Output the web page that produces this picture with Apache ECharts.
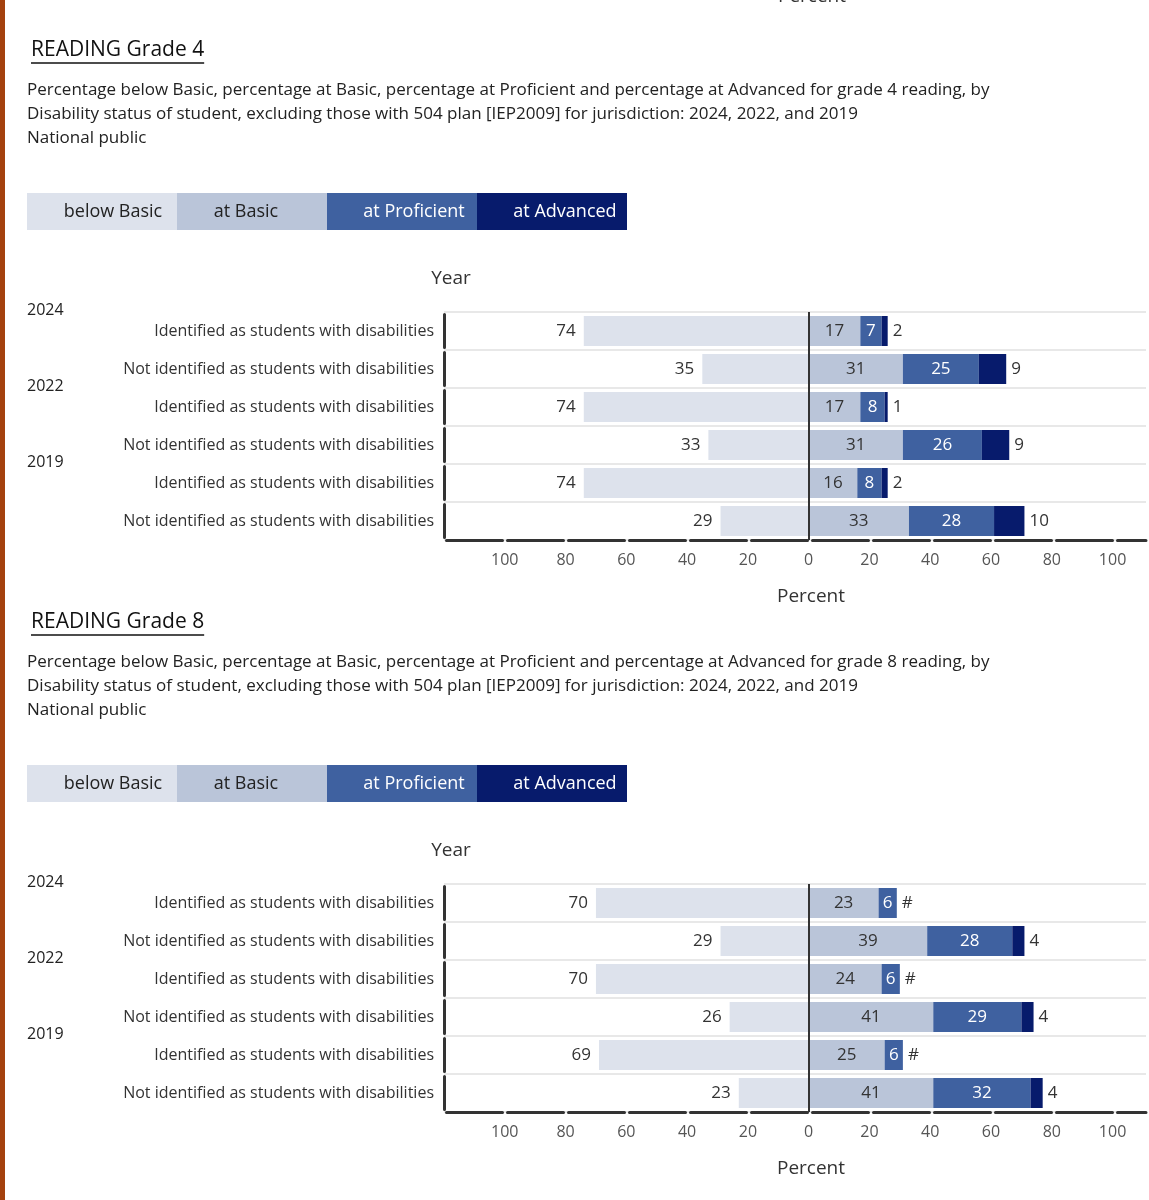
<!DOCTYPE html>
<html>
<head>
<meta charset="utf-8">
<script src="https://cdn.jsdelivr.net/npm/echarts@6/dist/echarts.min.js"></script>
<style>
html,body{margin:0;padding:0;background:#fff;}
#chart{width:1149px;height:1200px;}
</style>
</head>
<body>
<div id="chart"></div>
<script>
// ---- data ----
var categories = [
  'Identified as students with disabilities',
  'Not identified as students with disabilities',
  'Identified as students with disabilities',
  'Not identified as students with disabilities',
  'Identified as students with disabilities',
  'Not identified as students with disabilities'
];
var years = ['2024', '2022', '2019'];
var levels = ['below Basic', 'at Basic', 'at Proficient', 'at Advanced'];
var xMin = -120, xMax = 111, xInterval = 20;

var g4BelowBasic = [74, 35, 74, 33, 74, 29];
var g4Basic      = [17, 31, 17, 31, 16, 33];
var g4Proficient = [7, 25, 8, 26, 8, 28];
var g4Advanced   = [2, 9, 1, 9, 2, 10];

var g8BelowBasic = [70, 29, 70, 26, 69, 23];
var g8Basic      = [23, 39, 24, 41, 25, 41];
var g8Proficient = [6, 28, 6, 29, 6, 32];
var g8Advanced   = [0, 4, 0, 4, 0, 4];   // 0 shown as "#" (rounds to zero)

var panels = [
  { title: 'READING Grade 4', grade: 4, below: g4BelowBasic, basic: g4Basic, prof: g4Proficient, adv: g4Advanced },
  { title: 'READING Grade 8', grade: 8, below: g8BelowBasic, basic: g8Basic, prof: g8Proficient, adv: g8Advanced }
];

// ---- style ----
var COLORS = ['#dde2ec', '#bac5d9', '#3f61a0', '#071b6c'];
var LEGEND_TEXT = ['#222', '#222', '#fff', '#fff'];
var LEGEND_CX = [113, 246, 414, 565];
var FONT = '"Open Sans", "Noto Sans", sans-serif';
var PANEL_OFFSET = 572;
var PX_PER_UNIT = 3.05;
var GRID_LEFT = 444, GRID_TOP = 312, GRID_H = 228;
var GRID_W = (xMax - xMin) * PX_PER_UNIT;
var ROW_H = GRID_H / categories.length;
var ZERO_X = GRID_LEFT + (0 - xMin) * PX_PER_UNIT;

function measure(txt, size) {
  var c = document.createElement('canvas').getContext('2d');
  c.font = size + 'px ' + FONT;
  return c.measureText(txt).width;
}

var chart = echarts.init(document.getElementById('chart'), null, { renderer: 'canvas' });

var grids = [], xAxes = [], yAxes = [], series = [], graphics = [];

graphics.push({ type: 'rect', shape: { x: 0, y: 0, width: 5, height: 1200 }, style: { fill: '#a4410e' } });
graphics.push({ type: 'text', x: ZERO_X + 2, y: -3, style: { text: 'Percent', font: '19px ' + FONT, fill: '#333', textAlign: 'center', textVerticalAlign: 'middle' } });

var period = xInterval * PX_PER_UNIT;

panels.forEach(function (p, i) {
  var off = i * PANEL_OFFSET;
  var top = GRID_TOP + off;
  grids.push({ left: GRID_LEFT, top: top, width: GRID_W, height: GRID_H, containLabel: false });

  xAxes.push({
    type: 'value', gridIndex: i, min: xMin, max: xMax, interval: xInterval,
    axisLine: { show: true, onZero: false, lineStyle: { color: '#333', width: 3, type: [period - 5, 5], dashOffset: period - 2.5 } },
    axisTick: { show: false },
    splitLine: { show: false },
    axisLabel: {
      color: '#555', fontSize: 16, fontFamily: FONT, margin: 12,
      formatter: function (v) { return Math.abs(v) > 100 ? '' : String(Math.abs(v)); }
    }
  });

  yAxes.push({
    type: 'category', gridIndex: i, inverse: true, data: categories,
    axisLine: { show: true, onZero: false, lineStyle: { color: '#333', width: 3, type: [ROW_H - 5, 5], dashOffset: ROW_H - 2.5 } },
    axisTick: { show: false },
    splitLine: { show: true, lineStyle: { color: '#e8e8e8', width: 2 } },
    axisLabel: { color: '#333', fontSize: 16, fontFamily: FONT, margin: 10 }
  });

  var stack = 'g' + p.grade;
  var labelBase = { fontSize: 17, fontFamily: FONT };
  series.push({
    name: levels[0], type: 'bar', xAxisIndex: i, yAxisIndex: i, stack: stack, barWidth: 30,
    data: p.below.map(function (v) { return -v; }),
    itemStyle: { color: COLORS[0] },
    label: Object.assign({ show: true, position: 'left', distance: 8, color: '#333', formatter: function (d) { return Math.abs(d.value); } }, labelBase),
    markLine: {
      silent: true, symbol: 'none', label: { show: false },
      lineStyle: { color: '#333', width: 2, type: 'solid' },
      data: [{ xAxis: 0 }], animation: false
    },
    animation: false
  });
  series.push({
    name: levels[1], type: 'bar', xAxisIndex: i, yAxisIndex: i, stack: stack, barWidth: 30,
    data: p.basic, itemStyle: { color: COLORS[1] },
    label: Object.assign({ show: true, position: 'inside', color: '#333' }, labelBase),
    animation: false
  });
  series.push({
    name: levels[2], type: 'bar', xAxisIndex: i, yAxisIndex: i, stack: stack, barWidth: 30,
    data: p.prof, itemStyle: { color: COLORS[2] },
    label: Object.assign({ show: true, position: 'inside', color: '#fff' }, labelBase),
    animation: false
  });
  series.push({
    name: levels[3], type: 'bar', xAxisIndex: i, yAxisIndex: i, stack: stack, barWidth: 30,
    data: p.adv, itemStyle: { color: COLORS[3] },
    label: Object.assign({ show: true, position: 'right', distance: 5, color: '#333', formatter: function (d) { return d.value === 0 ? '#' : d.value; } }, labelBase),
    animation: false
  });

  // title + underline
  var tw = measure(p.title, 21);
  graphics.push({ type: 'text', x: 31, y: 50 + off, style: { text: p.title, font: '21px ' + FONT, fill: '#111', textVerticalAlign: 'middle' } });
  graphics.push({ type: 'line', shape: { x1: 31, y1: 63 + off, x2: 31 + tw, y2: 63 + off }, style: { stroke: '#111', lineWidth: 1.5 } });

  var sub = [
    'Percentage below Basic, percentage at Basic, percentage at Proficient and percentage at Advanced for grade ' + p.grade + ' reading, by',
    'Disability status of student, excluding those with 504 plan [IEP2009] for jurisdiction: 2024, 2022, and 2019',
    'National public'
  ];
  sub.forEach(function (s, k) {
    graphics.push({ type: 'text', x: 27, y: 90 + off + k * 24, style: { text: s, font: '17px ' + FONT, fill: '#222', textVerticalAlign: 'middle' } });
  });

  // legend blocks
  levels.forEach(function (lv, k) {
    graphics.push({ type: 'rect', shape: { x: 27 + k * 150, y: 193 + off, width: 150, height: 37 }, style: { fill: COLORS[k] } });
    graphics.push({ type: 'text', x: LEGEND_CX[k], y: 212 + off, style: { text: lv, font: '18px ' + FONT, fill: LEGEND_TEXT[k], textAlign: 'center', textVerticalAlign: 'middle' } });
  });

  graphics.push({ type: 'text', x: 451, y: 279 + off, style: { text: 'Year', font: '19px ' + FONT, fill: '#333', textAlign: 'center', textVerticalAlign: 'middle' } });
  graphics.push({ type: 'text', x: ZERO_X + 1, y: 597 + off, style: { text: 'Percent', font: '19px ' + FONT, fill: '#333', textAlign: 'center', textVerticalAlign: 'middle' } });

  years.forEach(function (yr, k) {
    graphics.push({ type: 'text', x: 27, y: top + k * 2 * ROW_H - 2, style: { text: yr, font: '16px ' + FONT, fill: '#222', textVerticalAlign: 'middle' } });
  });
});

chart.setOption({
  animation: false,
  backgroundColor: '#fff',
  textStyle: { fontFamily: FONT },
  grid: grids,
  xAxis: xAxes,
  yAxis: yAxes,
  series: series,
  graphic: { elements: graphics }
});
</script>
</body>
</html>
